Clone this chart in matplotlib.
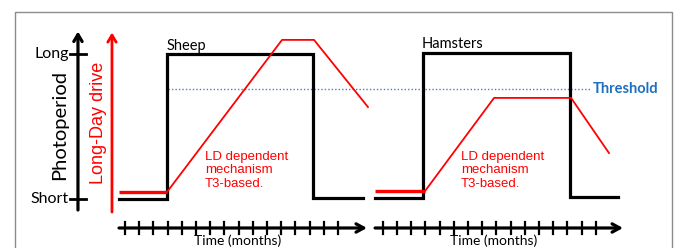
import matplotlib
matplotlib.use('Agg')
import matplotlib.pyplot as plt

# x in months (one tick = one month), y in photoperiod units (Short=0, Long=1)
sheep_photo_t = [-0.42, 2.96, 2.96, 13.24, 13.24, 16.76]
sheep_photo_y = [0.0, 0.0, 1.0, 1.0, 0.01, 0.01]
sheep_drive_t = [-0.42, 2.96, 11.06, 13.31, 17.11]
sheep_drive_y = [0.048, 0.048, 1.097, 1.097, 0.634]

ham_photo_t = [17.61, 20.99, 20.99, 31.34, 31.34, 34.72]
ham_photo_y = [0.01, 0.01, 1.007, 1.007, 0.015, 0.015]
ham_drive_t = [17.61, 21.13, 25.99, 31.41, 34.08]
ham_drive_y = [0.055, 0.055, 0.697, 0.697, 0.317]

threshold = 0.759
threshold_span = [3.03, 32.75]

sheep_months = list(range(16))
ham_months = [18.15 + k for k in range(16)]

mech_label = "LD dependent\nmechanism\nT3-based."
calibri_like = 'Lato'
arial_like = 'Liberation Sans'

fig = plt.figure(figsize=(6.75, 2.48), dpi=100)
ax = fig.add_axes([0, 0, 1, 1])
ax.set_xlim(-8.80, 38.73)
ax.set_ylim(-0.338, 1.372)
ax.axis('off')

# gray frame (bottom edge runs off the picture)
ax.plot([0.0222, 0.0222, 0.9956, 0.9956], [-0.05, 0.9516, 0.9516, -0.05],
        color='#8c8c8c', lw=1.0, transform=ax.transAxes)

# photoperiod axis
ax.annotate('', xy=(-3.31, 1.155), xytext=(-3.31, -0.076),
            arrowprops=dict(arrowstyle='->,head_length=0.5,head_width=0.3',
                            color='black', lw=2.3, shrinkA=0, shrinkB=0))
for lev in [0, 1]:
    ax.plot([-3.87, -2.75], [lev, lev], color='black', lw=2.0)
ax.text(-3.95, 1.0, 'Long', ha='right', va='center', fontsize=11.5,
        family=calibri_like)
ax.text(-3.95, 0.0, 'Short', ha='right', va='center', fontsize=11.5,
        family=calibri_like)
ax.text(-4.58, 0.51, 'Photoperiod', rotation=90, ha='center', va='center',
        fontsize=14.5, family=calibri_like)

# long-day drive axis
ax.annotate('', xy=(-0.915, 1.148), xytext=(-0.915, -0.09),
            arrowprops=dict(arrowstyle='->,head_length=0.5,head_width=0.3',
                            color='#ff0000', lw=2.0, shrinkA=0, shrinkB=0))
ax.text(-1.83, 0.528, 'Long-Day drive', rotation=90, ha='center', va='center',
        fontsize=13, color='#ff0000', family=arial_like)

# threshold
ax.plot(threshold_span, [threshold, threshold], color='#4f7fbf', lw=1.0,
        ls=(0, (1, 1.5)))
ax.text(32.96, threshold, 'Threshold', ha='left', va='center', fontsize=10.5,
        fontweight='bold', color='#1f6fc0', family=calibri_like)

# photoperiod curves
ax.plot(sheep_photo_t, sheep_photo_y, color='black', lw=2.3,
        solid_joinstyle='miter')
ax.plot(ham_photo_t, ham_photo_y, color='black', lw=2.3,
        solid_joinstyle='miter')

# drive curves: thick baseline, thin rest
for t, y in [(sheep_drive_t, sheep_drive_y), (ham_drive_t, ham_drive_y)]:
    ax.plot(t[:2], y[:2], color='#ff0000', lw=2.4, solid_capstyle='butt')
    ax.plot(t[1:], y[1:], color='#ff0000', lw=1.3)

ax.text(2.96, 1.055, 'Sheep', ha='left', va='center', fontsize=10.5,
        family=calibri_like)
ax.text(20.89, 1.07, 'Hamsters', ha='left', va='center', fontsize=10.5,
        family=calibri_like)

for x0 in [5.63, 23.66]:
    ax.text(x0, 0.33, mech_label, ha='left', va='top', fontsize=9.5,
            color='#ff0000', family=arial_like, linespacing=1.15)

# time axes
for months, start, tip, cx in [(sheep_months, -0.42, 17.04, 7.96),
                               (ham_months, 17.61, 35.07, 25.99)]:
    ax.annotate('', xy=(tip, -0.2), xytext=(start, -0.2),
                arrowprops=dict(arrowstyle='->,head_length=0.55,head_width=0.3',
                                color='black', lw=2.3, shrinkA=0, shrinkB=0))
    for m in months:
        ax.plot([m, m], [-0.159, -0.241], color='black', lw=1.6)
    ax.text(cx, -0.333, 'Time (months)', ha='center', va='bottom', fontsize=10,
            family=calibri_like)

fig.savefig('out.png', dpi=100)
